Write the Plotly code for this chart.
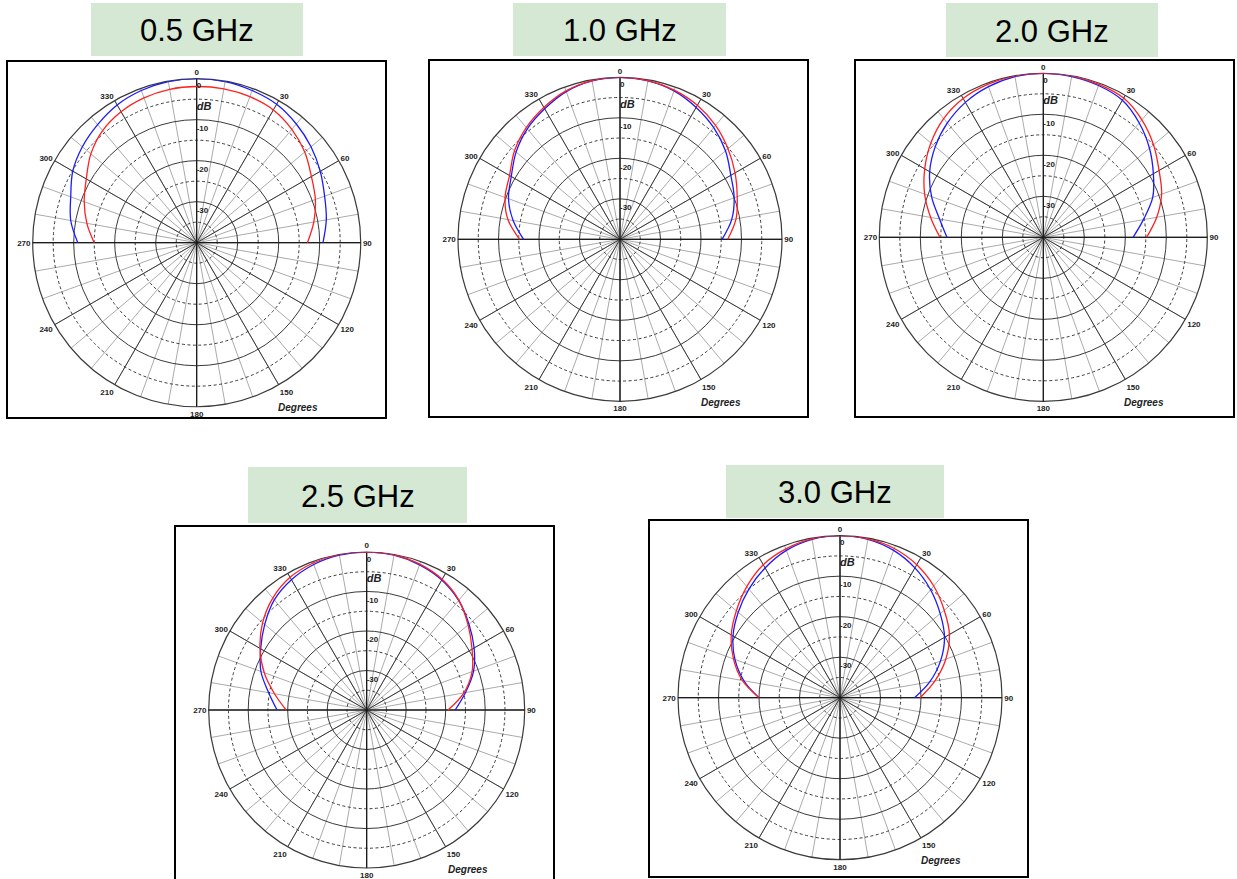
import plotly.graph_objects as go

W, H = 1237, 879

# ---------------- data ----------------
angles = [-90, -80, -70, -60, -50, -40, -30, -20, -10, 0, 10, 20, 30, 40, 50, 60, 70, 80, 90]

freq_labels = ["0.5 GHz", "1.0 GHz", "2.0 GHz", "2.5 GHz", "3.0 GHz"]

blue_05 = [-11.0, -8.8, -7.3, -5.1, -3.6, -2.4, -1.2, -0.5, -0.1, 0.0, -0.1, -0.5, -1.0, -2.2, -3.6, -5.2, -6.8, -7.9, -9.2]
red_05 = [-15.0, -12.8, -10.8, -8.9, -6.3, -4.3, -3.1, -2.4, -2.0, -1.9, -1.9, -2.1, -2.6, -3.9, -5.6, -7.7, -9.2, -11.0, -13.0]

blue_10 = [-16.2, -13.2, -10.7, -9.0, -6.5, -4.4, -2.8, -1.2, -0.3, 0.0, -0.3, -1.0, -2.4, -4.0, -6.0, -8.4, -10.0, -12.0, -14.8]
red_10 = [-15.2, -11.9, -9.8, -8.5, -6.0, -4.0, -2.4, -1.0, -0.2, 0.0, -0.2, -0.8, -1.8, -3.3, -5.2, -7.2, -9.2, -10.9, -13.4]

blue_20 = [-16.5, -14.3, -11.0, -8.0, -5.6, -3.6, -2.0, -0.9, -0.2, 0.0, -0.2, -0.6, -1.4, -3.6, -6.2, -9.0, -11.6, -15.2, -18.1]
red_20 = [-14.8, -12.1, -9.2, -6.6, -4.2, -2.2, -0.9, -0.3, 0.0, 0.0, 0.0, -0.3, -0.8, -2.6, -4.9, -7.4, -9.3, -11.9, -14.8]

blue_25 = [-17.3, -14.8, -11.5, -9.0, -6.3, -3.6, -1.9, -0.8, -0.2, 0.0, -0.2, -0.9, -2.0, -3.8, -6.2, -8.6, -11.2, -14.6, -17.6]
red_25 = [-19.6, -16.3, -12.4, -8.8, -5.6, -3.0, -1.2, -0.4, 0.0, 0.0, -0.1, -0.7, -1.8, -3.7, -6.5, -9.2, -11.6, -15.0, -19.4]

blue_30 = [-20.0, -15.9, -12.4, -9.5, -7.2, -5.0, -3.0, -1.3, -0.3, 0.0, -0.3, -1.3, -3.0, -5.2, -7.7, -10.2, -13.6, -17.5, -21.6]
red_30 = [-20.0, -15.5, -12.0, -9.0, -6.6, -4.2, -2.1, -0.9, -0.2, 0.0, -0.2, -0.8, -2.1, -4.0, -6.4, -8.8, -12.2, -16.2, -20.2]

blue_series = [blue_05, blue_10, blue_20, blue_25, blue_30]
red_series = [red_05, red_10, red_20, red_25, red_30]

angle_ticks_minor = list(range(0, 360, 10))
angle_ticks_major = list(range(0, 360, 30))
angle_tick_text = [str(a) for a in angle_ticks_major]
angle_ticks_axes = [0, 90, 180, 270]
ring_dashed = [-35, -25, -15, -5]
ring_solid = [-30, -20, -10]
radial_label_text = ["0", "<i>dB</i>", "-10", "-20", "-30"]
radial_label_r = [-1.9, -6.9, -12.3, -22.3, -32.3]
radial_label_size = [8, 11, 8, 8, 8]

# ---------------- layout geometry (pixels) ----------------
centers = [(196.7, 242.7), (620.0, 239.3), (1043.3, 237.3), (366.7, 710.0), (840.0, 697.7)]
radii = [164, 162, 164, 158, 162]
frames = [(7, 61, 386, 418), (429, 60, 808, 417), (855, 60, 1234, 417),
          (175, 526, 554, 882), (649, 520, 1028, 877)]
labels_box = [(91, 3, 303, 56), (513, 3, 726, 56), (946, 3, 1158, 57),
              (248, 467, 467, 523), (726, 465, 944, 518)]

GRID_DARK = "#3a3a3a"
GRID_LIGHT = "#ababab"
FONT = "Liberation Sans, Arial, sans-serif"

fig = go.Figure()
layout = dict(width=W, height=H, margin=dict(l=0, r=0, t=0, b=0),
              paper_bgcolor="white", plot_bgcolor="white", showlegend=False,
              shapes=[], annotations=[])


def px_x(x):
    return x / W


def px_y(y):
    return 1 - y / H


for k in range(5):
    cx, cy = centers[k]
    R = radii[k]
    dom = dict(x=[px_x(cx - R), px_x(cx + R)], y=[px_y(cy + R), px_y(cy - R)])
    names = []
    for l in range(3):
        n = k * 3 + l + 1
        names.append("polar" if n == 1 else f"polar{n}")

    common_radial = dict(range=[-40, 0], showticklabels=False, ticks="", showline=False,
                         angle=90)
    # layer A: light 10-degree spokes, dashed rings
    layout[names[0]] = dict(
        domain=dom, bgcolor="white",
        angularaxis=dict(rotation=90, direction="clockwise", tickmode="array",
                         tickvals=angle_ticks_minor, showticklabels=False, ticks="",
                         showline=False, gridcolor=GRID_LIGHT, gridwidth=0.8),
        radialaxis=dict(tickmode="array", tickvals=ring_dashed, gridcolor=GRID_DARK,
                        gridwidth=0.8, griddash="3px,2.5px", **common_radial),
    )
    # layer B: dark 30-degree spokes, solid rings, outer circle, labels
    layout[names[1]] = dict(
        domain=dom, bgcolor="rgba(0,0,0,0)",
        angularaxis=dict(rotation=90, direction="clockwise", tickmode="array",
                         tickvals=angle_ticks_major, ticktext=angle_tick_text,
                         tickfont=dict(size=8, color="#222", family=FONT, weight="bold"),
                         ticks="", showline=True, linecolor=GRID_DARK, linewidth=1.2,
                         gridcolor=GRID_DARK, gridwidth=1),
        radialaxis=dict(tickmode="array", tickvals=ring_solid, gridcolor=GRID_DARK,
                        gridwidth=1.1, **common_radial),
    )
    # layer C: main axes and data
    layout[names[2]] = dict(
        domain=dom, bgcolor="rgba(0,0,0,0)",
        angularaxis=dict(rotation=90, direction="clockwise", tickmode="array",
                         tickvals=angle_ticks_axes, showticklabels=False, ticks="",
                         showline=False, gridcolor="#111", gridwidth=1.4),
        radialaxis=dict(tickmode="array", tickvals=[], showgrid=False, **common_radial),
    )

    for l in range(2):
        fig.add_trace(go.Scatterpolar(r=[-40], theta=[0], mode="markers",
                                      marker=dict(opacity=0, size=1), subplot=names[l],
                                      hoverinfo="skip", showlegend=False))

    fig.add_trace(go.Scatterpolar(r=blue_series[k], theta=angles, mode="lines",
                                  line=dict(color="#1a1aff", width=1.3, shape="spline"),
                                  subplot=names[2], hoverinfo="skip", showlegend=False))
    fig.add_trace(go.Scatterpolar(r=red_series[k], theta=angles, mode="lines",
                                  line=dict(color="#ff2020", width=1.3, shape="spline"),
                                  subplot=names[2], hoverinfo="skip", showlegend=False))
    fig.add_trace(go.Scatterpolar(r=radial_label_r, theta=[0] * len(radial_label_r),
                                  mode="text", text=radial_label_text,
                                  textposition="middle right",
                                  textfont=dict(size=radial_label_size, color="#222",
                                                family=FONT, weight="bold"),
                                  subplot=names[2], hoverinfo="skip", showlegend=False))

    # frame
    fx0, fy0, fx1, fy1 = frames[k]
    layout["shapes"].append(dict(type="rect", xref="paper", yref="paper",
                                 x0=px_x(fx0), x1=px_x(fx1), y0=px_y(fy1), y1=px_y(fy0),
                                 line=dict(color="black", width=2), fillcolor="rgba(0,0,0,0)",
                                 layer="above"))
    # green title box
    gx0, gy0, gx1, gy1 = labels_box[k]
    layout["shapes"].append(dict(type="rect", xref="paper", yref="paper",
                                 x0=px_x(gx0), x1=px_x(gx1), y0=px_y(gy1), y1=px_y(gy0),
                                 line=dict(width=0), fillcolor="#d5e8d4", layer="below"))
    layout["annotations"].append(dict(xref="paper", yref="paper",
                                      x=px_x((gx0 + gx1) / 2), y=px_y((gy0 + gy1) / 2 + 1),
                                      text=freq_labels[k], showarrow=False,
                                      font=dict(size=31, color="black", family=FONT),
                                      xanchor="center", yanchor="middle"))
    # "Degrees" caption
    layout["annotations"].append(dict(xref="paper", yref="paper",
                                      x=px_x(cx + 101), y=px_y(cy + R + 1),
                                      text="<b><i>Degrees</i></b>", showarrow=False,
                                      font=dict(size=10, color="#222", family=FONT),
                                      xanchor="center", yanchor="middle"))

fig.update_layout(**layout)
fig.write_html(
    "out.html",
    config={"displayModeBar": False},
    post_script="document.body.style.margin='0px';document.body.style.overflow='hidden';",
)
